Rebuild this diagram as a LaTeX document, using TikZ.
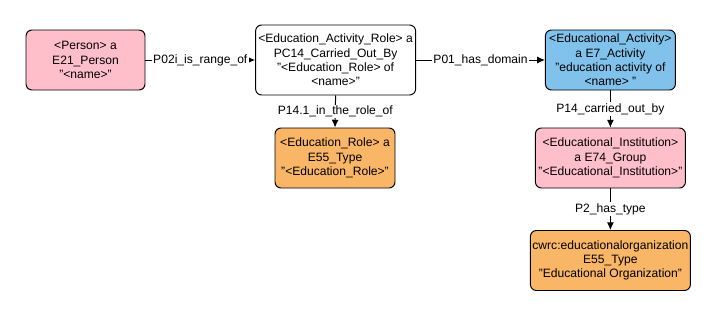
\documentclass[tikz,border=0pt]{standalone}
\usepackage{fontspec}
\setsansfont{Liberation Sans}
\usepackage{xcolor}
\usetikzlibrary{arrows.meta}
\definecolor{rosa}{HTML}{FFBFCA}
\definecolor{hellblau}{HTML}{80C2EB}
\definecolor{orange}{HTML}{F9B666}

\begin{document}
\begin{tikzpicture}[
                >={Latex[length=5.5pt,width=5pt]},
                font=\sffamily\fontsize{8.6}{10.2}\selectfont,
                block/.style={rectangle, draw, line width=0.7pt, rounded corners=0.15cm, align=center, inner sep=0pt, minimum height=1.5cm},
                line/.style={draw, ->, line width=0.7pt},
                lbl/.style={fill=white, inner sep=1pt}
            ]
                \useasboundingbox (0,0) rectangle (17.9,7.9);

                % --- KNOTEN (LINKS, MITTE) ---
                \node[block, fill=rosa, minimum width=2.975cm] (person) at (2.1375,6.4) {<Person> a\\E21\_Person\\"<name>"};
                \node[block, fill=white, minimum width=4cm, minimum height=1.75cm] (role) at (8.39,6.4) {<Education\_Activity\_Role> a\\PC14\_Carried\_Out\_By\\"<Education\_Role> of\\<name>"};
                \node[block, fill=orange, minimum width=3cm] (roletype) at (8.375,3.95) {<Education\_Role> a\\E55\_Type\\"<Education\_Role>"};

                % --- KNOTEN (RECHTS) ---
                \node[block, fill=hellblau, minimum width=3.25cm] (activity) at (15.26,6.4) {<Educational\_Activity>\\a E7\_Activity\\"education activity of\\<name> "};
                \node[block, fill=rosa, minimum width=3.75cm] (institution) at (15.26,3.95) {<Educational\_Institution>\\a E74\_Group\\"<Educational\_Institution>"};
                \node[block, fill=orange, minimum width=4cm] (orgtype) at (15.26,1.3875) {cwrc:educationalorganization\\E55\_Type\\"Educational Organization"};

                % --- VERBINDUNGEN ---
                \draw[line] (person.east) -- node[lbl] {P02i\_is\_range\_of} (role.west);
                \draw[line] (role.east) -- node[lbl] {P01\_has\_domain} (activity.west);
                \draw[line] (role.south) -- node[lbl] {P14.1\_in\_the\_role\_of} (roletype.north);
                \draw[line] (activity.south) -- node[lbl] {P14\_carried\_out\_by} (institution.north);
                \draw[line] (institution.south) -- node[lbl] {P2\_has\_type} (orgtype.north);

            \end{tikzpicture}
\end{document}
